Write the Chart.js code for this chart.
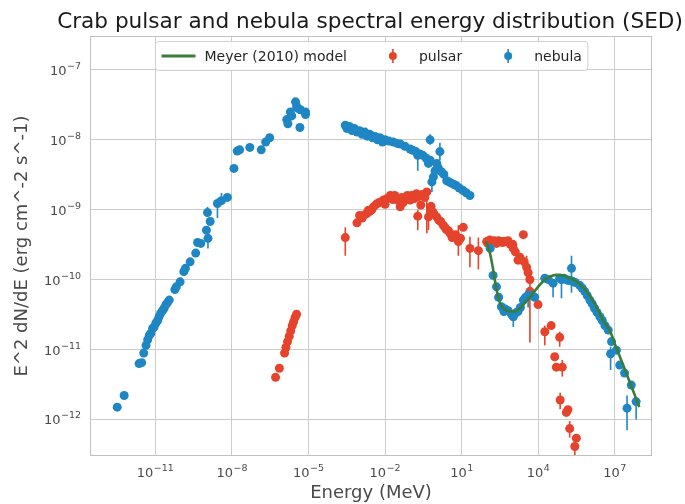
<!DOCTYPE html>
<html>
<head>
<meta charset="utf-8">
<title>Crab pulsar and nebula SED</title>
<script src="https://cdn.jsdelivr.net/npm/chart.js@4.4.1/dist/chart.umd.min.js"></script>
<style>
  html, body { margin: 0; padding: 0; background: #ffffff; }
  #wrap { width: 685px; height: 504px; }
</style>
</head>
<body>
<div id="wrap"><canvas id="sed" width="685" height="504"></canvas></div>
<script>
const TITLE = 'Crab pulsar and nebula spectral energy distribution (SED)';

// axis ticks (labels are drawn as 10 + raised exponent)
const xTickValues = [1e-11, 1e-8, 1e-5, 1e-2, 1e1, 1e4, 1e7];
const xTickExps = ['\u221211', '\u22128', '\u22125', '\u22122', '1', '4', '7'];
const yTickValues = [1e-12, 1e-11, 1e-10, 1e-9, 1e-8, 1e-7];
const yTickExps = ['\u221212', '\u221211', '\u221210', '\u22129', '\u22128', '\u22127'];

// nebula: energy (MeV) and E^2 dN/dE (erg cm^-2 s^-1)
const nebulaE = [
  3.2e-13, 6.0e-13, 2.3e-12, 2.9e-12, 3.5e-12, 4.3e-12, 5.0e-12, 5.8e-12, 6.6e-12, 7.8e-12,
  8.9e-12, 1.05e-11, 1.23e-11, 1.4e-11, 1.6e-11, 1.9e-11, 2.2e-11, 2.6e-11, 3.0e-11, 3.5e-11,
  5.8e-11, 6.6e-11, 9.3e-11, 1.3e-10, 1.5e-10, 2.3e-10, 3.8e-10, 4.5e-10, 6.0e-10, 1.0e-9,
  1.15e-9, 1.4e-9, 1.1e-9, 2.7e-9, 3.9e-9, 6.6e-9, 1.2e-8, 1.6e-8, 2.0e-8, 5.0e-8,
  1.4e-7, 2.1e-7, 3.0e-7, 1.4e-6, 1.55e-6, 1.95e-6, 3.1e-6, 3.4e-6, 4.0e-6, 4.8e-6,
  7.6e-6, 7.6e-6, 4.6e-6, 2.2e-6,
  2.75e-4, 4.0e-4, 6.3e-4, 1.0e-3, 1.6e-3, 2.5e-3, 4.0e-3, 6.3e-3, 1.0e-2,
  3.2e-4, 5.0e-4, 7.9e-4, 1.26e-3, 2.0e-3, 3.2e-3, 5.0e-3, 7.9e-3,
  2.1e-2, 4.0e-2, 9.5e-2, 0.16, 0.19, 0.23, 0.58, 0.58, 0.78, 0.68,
  1.4e-2, 3.0e-2, 6.0e-2, 0.12, 0.3, 0.4, 0.5, 0.9, 1.2,
  1.4, 1.05, 1.6, 2.6, 4.0, 6.3, 11, 21,
  2.0, 3.2, 5.0, 8.0, 15,
  130, 170, 230, 360, 500, 660, 1050, 1600, 2600, 4000, 7200,
  280, 450, 890, 1260, 2000, 3200, 5600,
  1.8e4, 3.8e4, 6.9e4, 8.1e4, 1.45e5, 2.0e5, 1.7e5, 2.8e5, 4.2e5, 5.2e5,
  6.6e5, 8.3e5, 1.05e6, 1.3e6, 1.6e6, 2.0e6, 2.6e6, 3.2e6, 4.1e6, 5.5e6,
  7.4e6, 6.8e6, 1.15e7, 1.55e7, 2.4e7, 4.4e7, 3.0e7, 6.8e7,
  2.5e4, 1.0e5, 1.26e5, 2.2e5
];
const nebulaF = [
  1.5e-12, 2.2e-12, 6.3e-12, 6.5e-12, 8.9e-12, 1.15e-11, 1.38e-11, 1.6e-11, 1.7e-11, 2.0e-11,
  2.1e-11, 2.4e-11, 2.6e-11, 2.95e-11, 3.3e-11, 3.6e-11, 3.9e-11, 4.4e-11, 4.7e-11, 5.1e-11,
  7.2e-11, 7.9e-11, 9.3e-11, 1.3e-10, 1.45e-10, 1.8e-10, 2.4e-10, 3.4e-10, 3.3e-10, 5.1e-10,
  3.9e-10, 6.8e-10, 9.1e-10, 1.23e-9, 1.35e-9, 1.5e-9, 3.9e-9, 6.9e-9, 7.2e-9, 7.8e-9,
  7.2e-9, 9.3e-9, 1.07e-8, 1.95e-8, 1.7e-8, 2.5e-8, 3.5e-8, 3.0e-8, 2.8e-8, 2.7e-8,
  2.5e-8, 2.3e-8, 1.5e-8, 2.2e-8,
  1.62e-8, 1.55e-8, 1.45e-8, 1.35e-8, 1.29e-8, 1.2e-8, 1.12e-8, 1.07e-8, 1.0e-8,
  1.45e-8, 1.36e-8, 1.29e-8, 1.2e-8, 1.13e-8, 1.07e-8, 1.0e-8, 9.3e-9,
  9.3e-9, 8.7e-9, 7.4e-9, 6.8e-9, 6.0e-9, 6.3e-9, 1.0e-8, 5.1e-9, 2.95e-9, 2.5e-9,
  9.6e-9, 8.9e-9, 8.1e-9, 7.1e-9, 6.0e-9, 5.5e-9, 4.6e-9, 3.6e-9, 4.0e-9,
  6.8e-9, 4.6e-9, 3.5e-9, 2.6e-9, 2.4e-9, 2.2e-9, 1.9e-9, 1.6e-9,
  3.2e-9, 2.5e-9, 2.3e-9, 2.05e-9, 1.75e-9,
  2.8e-10, 1.15e-10, 7.9e-11, 4.1e-11, 3.8e-11, 3.6e-11, 2.95e-11, 3.5e-11, 5.1e-11, 6.0e-11, 5.6e-11,
  5.6e-11, 3.5e-11, 3.2e-11, 3.3e-11, 4.0e-11, 5.6e-11, 6.0e-11,
  1.05e-10, 8.9e-11, 1.05e-10, 1.0e-10, 9.8e-11, 1.45e-10, 9.8e-11, 9.1e-11, 8.3e-11, 7.6e-11,
  6.8e-11, 5.9e-11, 5.1e-11, 4.5e-11, 3.9e-11, 3.4e-11, 2.95e-11, 2.6e-11, 2.2e-11, 1.9e-11,
  1.3e-11, 8.7e-12, 9.8e-12, 6.0e-12, 4.6e-12, 3.1e-12, 1.45e-12, 1.8e-12,
  1.0e-10, 1.05e-10, 1.0e-10, 9.5e-11
];
const nebulaErrE  = [1.15e-9, 1.1e-9, 2.7e-9, 3.9e-9, 0.19, 0.58, 0.68, 1.4, 1050, 4000, 3.8e4, 8.1e4, 2.0e5, 6.8e6, 3.0e7, 6.8e7];
const nebulaErrLo = [2.8e-10, 7.9e-10, 7.6e-10, 1.26e-9, 3.6e-9, 8.5e-9, 1.8e-9, 5.1e-9, 2.1e-11, 4.0e-11, 5.6e-11, 5.4e-11, 6.5e-11, 5.1e-12, 7.0e-13, 1.0e-12];
const nebulaErrHi = [4.6e-10, 1.1e-9, 1.45e-9, 1.74e-9, 7.0e-9, 1.2e-8, 3.0e-9, 9.1e-9, 3.2e-11, 7.0e-11, 1.0e-10, 1.1e-10, 2.2e-10, 1.1e-11, 2.2e-12, 2.1e-12];

// pulsar
const pulsarE = [
  5.1e-7, 7.2e-7, 1.15e-6, 1.3e-6, 1.5e-6, 1.75e-6, 2.0e-6, 2.3e-6, 2.6e-6, 3.0e-6, 3.4e-6,
  2.75e-4, 7.9e-4, 1.26e-3, 1.95e-3, 3.5e-3, 5.6e-3, 8.7e-3, 1.6e-2, 2.9e-2, 3.9e-2,
  6.3e-2, 9.5e-2, 0.17, 0.19, 0.43, 0.5, 0.8, 1.05, 1.9, 3.5, 7.4, 11.5, 21, 45,
  2.5e-3, 1.0e-2, 2.0e-2, 5.0e-2, 0.126, 0.32, 0.25, 0.63, 1.26, 2.5, 5.0,
  1.0e-3, 1.6e-3, 2.2e-3, 3.0e-3, 4.5e-3, 7.0e-3, 1.2e-2, 2.4e-2, 3.3e-2, 4.5e-2,
  7.5e-2, 0.11, 0.14, 0.2, 0.28, 0.36, 0.6, 0.7, 1.5, 2.2, 3.0, 4.2, 5.8, 9.0,
  95, 160, 230, 350, 580, 1050, 2600, 1900, 3500, 4700, 4700, 9800,
  126, 280, 450, 800, 1260, 1600, 2800, 4000, 105, 190, 400, 650, 1000,
  1.8e4, 3.2e4, 6.9e4, 4.4e4, 5.1e4, 8.7e4, 7.2e4, 1.45e5, 1.26e5, 1.7e5, 3.1e5, 2.7e5
];
const pulsarF = [
  4.0e-12, 5.4e-12, 8.9e-12, 1.07e-11, 1.3e-11, 1.55e-11, 1.85e-11, 2.2e-11, 2.5e-11, 2.9e-11, 3.2e-11,
  4.0e-10, 6.5e-10, 7.6e-10, 8.9e-10, 1.1e-9, 1.26e-9, 1.38e-9, 1.6e-9, 1.45e-9, 1.1e-9,
  1.5e-9, 1.38e-9, 1.7e-9, 8.1e-10, 1.8e-9, 7.9e-10, 8.9e-10, 7.9e-10, 6.0e-10, 4.6e-10, 3.5e-10, 5.6e-10, 2.8e-10, 2.6e-10,
  9.5e-10, 1.2e-9, 1.4e-9, 1.26e-9, 1.5e-9, 1.6e-9, 1.17e-9, 1.12e-9, 7.1e-10, 5.2e-10, 4.2e-10,
  8.3e-10, 8.5e-10, 9.8e-10, 1.0e-9, 1.2e-9, 1.3e-9, 1.45e-9, 1.6e-9, 1.35e-9, 1.5e-9,
  1.6e-9, 1.6e-9, 1.45e-9, 1.55e-9, 1.65e-9, 1.5e-9, 1.0e-9, 9.5e-10, 6.8e-10, 5.6e-10, 5.0e-10, 4.0e-10, 4.4e-10, 3.9e-10,
  3.5e-10, 3.5e-10, 3.3e-10, 3.5e-10, 3.5e-10, 2.8e-10, 4.4e-10, 2.1e-10, 1.5e-10, 1.0e-10, 6.8e-11, 4.4e-11,
  3.7e-10, 3.6e-10, 3.5e-10, 3.2e-10, 2.5e-10, 1.9e-10, 1.8e-10, 1.26e-10, 3.3e-10, 3.6e-10, 3.4e-10, 3.6e-10, 3.2e-10,
  1.8e-11, 2.2e-11, 1.5e-11, 7.9e-12, 5.6e-12, 5.6e-12, 1.9e-12, 1.38e-12, 1.26e-12, 7.4e-13, 5.4e-13, 4.1e-13
];
const pulsarErrE  = [2.75e-4, 0.19, 0.43, 0.5, 7.4, 21, 45, 3500, 4700, 1.8e4, 6.9e4, 8.7e4, 7.2e4, 2.7e5, 1.7e5];
const pulsarErrLo = [2.2e-10, 5.1e-10, 4.6e-10, 5.1e-10, 2.2e-10, 1.5e-10, 1.4e-10, 1.0e-10, 1.26e-11, 1.15e-11, 1.1e-11, 4.1e-12, 1.4e-12, 3.0e-13, 5.5e-13];
const pulsarErrHi = [5.6e-10, 1.0e-9, 1.9e-9, 1.0e-9, 6.0e-10, 4.1e-10, 4.0e-10, 2.2e-10, 1.0e-10, 2.2e-11, 1.8e-11, 7.1e-12, 2.4e-12, 5.5e-13, 9.5e-13];

// Meyer (2010) model curve
const modelE = [89, 110, 160, 220, 320, 500, 780, 1260, 1900, 3200, 4700, 9800, 1.55e4, 2.8e4, 5.1e4, 1e5, 1.7e5, 3.2e5, 5.6e5, 1e6, 1.9e6, 3.5e6, 6.2e6, 1.1e7, 2.0e7, 4.0e7, 9.1e7];
const modelF = [3.5e-10, 3.0e-10, 1.6e-10, 7.9e-11, 4.6e-11, 3.7e-11, 3.5e-11, 3.5e-11, 3.9e-11, 4.8e-11, 5.6e-11, 7.9e-11, 9.5e-11, 1.1e-10, 1.17e-10, 1.15e-10, 1.05e-10, 9.3e-11, 7.9e-11, 6.0e-11, 4.1e-11, 2.6e-11, 1.9e-11, 1.1e-11, 6.3e-12, 3.3e-12, 1.5e-12];

const RED = '#e5432b';
const BLUE = '#1f86c4';
const GREEN = '#3a7d3a';
const GRID = '#cccccc';
const FRAME = '#c0c0c0';
const TXT = '#4a4a4a';
const FONT = "'DejaVu Sans', sans-serif";

function pts(xs, ys){ return xs.map((x, i) => ({x: x, y: ys[i]})); }

// vertical error bars, drawn under the markers
const errorBars = {
  id: 'errorBars',
  beforeDatasetsDraw(chart){
    const {ctx, chartArea: a, scales: {x, y}} = chart;
    ctx.save();
    ctx.beginPath(); ctx.rect(a.left, a.top, a.right - a.left, a.bottom - a.top); ctx.clip();
    ctx.lineWidth = 1.6;
    [[pulsarErrE, pulsarErrLo, pulsarErrHi, RED], [nebulaErrE, nebulaErrLo, nebulaErrHi, BLUE]].forEach(([es, lo, hi, c]) => {
      ctx.strokeStyle = c;
      es.forEach((e, i) => {
        const px = x.getPixelForValue(e);
        ctx.beginPath();
        ctx.moveTo(px, y.getPixelForValue(lo[i]));
        ctx.lineTo(px, y.getPixelForValue(hi[i]));
        ctx.stroke();
      });
    });
    ctx.restore();
  }
};

// "10" with a raised exponent, like matplotlib's log tick labels
function powLabel(ctx, exp, x, base, align){
  ctx.font = '13px ' + FONT;
  const w1 = ctx.measureText('10').width;
  ctx.font = '9.5px ' + FONT;
  const w2 = ctx.measureText(exp).width;
  const w = w1 + w2 + 0.5;
  const left = align === 'right' ? x - w : x - w / 2;
  ctx.fillStyle = TXT; ctx.textAlign = 'left'; ctx.textBaseline = 'alphabetic';
  ctx.font = '13px ' + FONT;
  ctx.fillText('10', left, base);
  ctx.font = '9.5px ' + FONT;
  ctx.fillText(exp, left + w1 + 0.5, base - 6);
}

// title centred over the plot area, tick labels
const textParts = {
  id: 'textParts',
  afterDraw(chart){
    const {ctx, chartArea: a, scales: {x, y}} = chart;
    ctx.save();
    ctx.font = '21.6px ' + FONT;
    ctx.fillStyle = '#1a1a1a'; ctx.textAlign = 'center'; ctx.textBaseline = 'alphabetic';
    ctx.fillText(TITLE, (a.left + a.right) / 2 - 1, 28);
    xTickValues.forEach((v, i) => powLabel(ctx, xTickExps[i], x.getPixelForValue(v), a.bottom + 20.5, 'center'));
    yTickValues.forEach((v, i) => powLabel(ctx, yTickExps[i], a.left - 9, y.getPixelForValue(v) + 5, 'right'));
    ctx.restore();
  }
};

// frame + matplotlib-like legend box inside the plot
const frameLegend = {
  id: 'frameLegend',
  afterDraw(chart){
    const {ctx, chartArea: a} = chart;
    ctx.save();
    ctx.strokeStyle = FRAME; ctx.lineWidth = 1;
    ctx.strokeRect(a.left + 0.5, a.top + 0.5, a.right - a.left - 1, a.bottom - a.top - 1);

    ctx.font = '14px ' + FONT;
    const items = [
      {label: 'Meyer (2010) model', kind: 'line', color: GREEN},
      {label: 'pulsar', kind: 'dot', color: RED},
      {label: 'nebula', kind: 'dot', color: BLUE}
    ];
    const pad = 6, handle = 34, gap = 9, colGap = 29;
    let w = pad * 2;
    items.forEach((it, i) => { it.w = ctx.measureText(it.label).width; w += handle + gap + it.w + (i ? colGap : 0); });
    const h = 29;
    const bx = Math.round((a.left + a.right) / 2 - w / 2) + 0.5;
    const by = a.top + 5.5;
    const r = 3;
    ctx.beginPath();
    ctx.moveTo(bx + r, by); ctx.lineTo(bx + w - r, by); ctx.arcTo(bx + w, by, bx + w, by + r, r);
    ctx.lineTo(bx + w, by + h - r); ctx.arcTo(bx + w, by + h, bx + w - r, by + h, r);
    ctx.lineTo(bx + r, by + h); ctx.arcTo(bx, by + h, bx, by + h - r, r);
    ctx.lineTo(bx, by + r); ctx.arcTo(bx, by, bx + r, by, r);
    ctx.closePath();
    ctx.fillStyle = 'rgba(255,255,255,0.88)'; ctx.fill();
    ctx.strokeStyle = '#d0d0d0'; ctx.stroke();

    const cy = by + h / 2;
    let cx = bx + pad;
    items.forEach((it, i) => {
      if(i) cx += colGap;
      if(it.kind === 'line'){
        ctx.strokeStyle = it.color; ctx.lineWidth = 3;
        ctx.beginPath(); ctx.moveTo(cx, cy); ctx.lineTo(cx + handle, cy); ctx.stroke();
      } else {
        const mx = cx + handle / 2;
        ctx.strokeStyle = it.color; ctx.lineWidth = 1.6;
        ctx.beginPath(); ctx.moveTo(mx, cy - 7); ctx.lineTo(mx, cy + 7); ctx.stroke();
        ctx.fillStyle = it.color;
        ctx.beginPath(); ctx.arc(mx, cy, 4, 0, Math.PI * 2); ctx.fill();
      }
      cx += handle + gap;
      ctx.fillStyle = '#262626'; ctx.textBaseline = 'middle'; ctx.textAlign = 'left';
      ctx.fillText(it.label, cx, cy + 1);
      cx += it.w;
    });
    ctx.restore();
  }
};

new Chart(document.getElementById('sed'), {
  data: {
    datasets: [
      { type: 'line', label: 'Meyer (2010) model', data: pts(modelE, modelF), borderColor: GREEN, borderWidth: 2.6,
        pointRadius: 0, fill: false, cubicInterpolationMode: 'monotone' },
      { type: 'scatter', label: 'nebula', data: pts(nebulaE, nebulaF), backgroundColor: BLUE, borderWidth: 0, pointRadius: 4.5 },
      { type: 'scatter', label: 'pulsar', data: pts(pulsarE, pulsarF), backgroundColor: RED, borderWidth: 0, pointRadius: 4.5 }
    ]
  },
  options: {
    responsive: false,
    animation: false,
    events: [],
    layout: { padding: { left: 0, right: 33, top: 36, bottom: 0 } },
    plugins: {
      legend: { display: false },
      tooltip: { enabled: false },
      title: { display: false }
    },
    scales: {
      x: {
        type: 'logarithmic', min: 2.75e-14, max: 2.85e8,
        afterBuildTicks: s => { s.ticks = xTickValues.map(v => ({ value: v })); },
        afterFit: s => { s.height = 48; },
        ticks: { display: false },
        grid: { color: GRID, lineWidth: 1, drawTicks: false },
        border: { display: false },
        title: { display: true, text: 'Energy (MeV)', color: TXT, font: { family: FONT, size: 18 }, padding: { top: 0, bottom: 0 } }
      },
      y: {
        type: 'logarithmic', min: 3.06e-13, max: 3.06e-7,
        afterBuildTicks: s => { s.ticks = yTickValues.map(v => ({ value: v })); },
        afterFit: s => { s.width = 90; },
        ticks: { display: false },
        grid: { color: GRID, lineWidth: 1, drawTicks: false },
        border: { display: false },
        title: { display: true, text: 'E^2 dN/dE (erg cm^-2 s^-1)', color: TXT, font: { family: FONT, size: 18 }, padding: { top: 12, bottom: 0 } }
      }
    }
  },
  plugins: [errorBars, textParts, frameLegend]
});
</script>
</body>
</html>
